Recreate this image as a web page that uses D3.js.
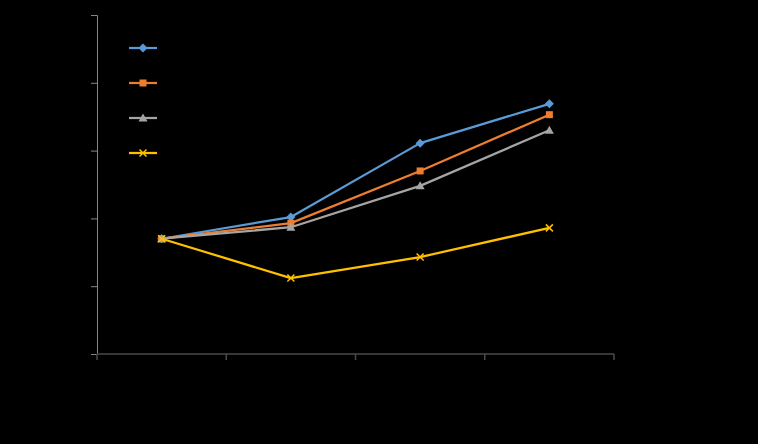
<!DOCTYPE html>
<html>
<head>
<meta charset="utf-8">
<script src="https://cdn.jsdelivr.net/npm/d3@7"></script>
<style>
  body { margin: 0; background: #000; }
  svg { display: block; font-family: "Liberation Sans", Arial, sans-serif; }
</style>
</head>
<body>
<svg id="chart" width="758" height="444"></svg>
<script>
// chart data
const categories = ["Category 1", "Category 2", "Category 3", "Category 4"];
const seriesNames = ["Series 1", "Series 2", "Series 3", "Series 4"];
const series1 = [1.70, 2.02, 3.11, 3.69];
const series2 = [1.70, 1.93, 2.70, 3.53];
const series3 = [1.70, 1.87, 2.48, 3.30];
const series4 = [1.70, 1.12, 1.43, 1.86];
const yTicks = [0, 1, 2, 3, 4, 5];

const colors = ["#5B9BD5", "#ED7D31", "#A5A5A5", "#FFC000"];
const markers = ["diamond", "square", "triangle", "cross"];
const allSeries = [series1, series2, series3, series4];

const margin = {top: 15, left: 97, right: 144, bottom: 90};
const width = 758 - margin.left - margin.right;
const height = 444 - margin.top - margin.bottom;

const svg = d3.select("#chart");
const chart = svg.append("g")
    .attr("transform", `translate(${margin.left},${margin.top})`);

const xScale = d3.scaleBand().domain(categories).range([0, width]);
const yScale = d3.scaleLinear().domain([0, 5]).range([height, 0]);

// y axis
const yAxisG = chart.append("g")
    .call(d3.axisLeft(yScale).tickValues(yTicks).tickSize(6).tickPadding(6));
yAxisG.selectAll("path, line").attr("stroke", "#868686");
yAxisG.selectAll("text").attr("fill", "#000").attr("font-size", 12);

// x axis, ticks on band boundaries
const xAxisG = chart.append("g").attr("transform", `translate(0,${height})`);
xAxisG.append("line")
    .attr("x1", 0).attr("x2", width)
    .attr("stroke", "#4a4a4a").attr("stroke-width", 1.5);
const bounds = categories.map(c => xScale(c)).concat([width]);
xAxisG.selectAll(".tk").data(bounds).join("line")
    .attr("x1", d => d).attr("x2", d => d)
    .attr("y1", 0).attr("y2", 6)
    .attr("stroke", "#4a4a4a").attr("stroke-width", 1.5);
xAxisG.selectAll(".lbl").data(categories).join("text")
    .attr("x", d => xScale(d) + xScale.bandwidth() / 2)
    .attr("y", 22)
    .attr("text-anchor", "middle")
    .attr("fill", "#000").attr("font-size", 12)
    .text(d => d);

const cx = c => xScale(c) + xScale.bandwidth() / 2;

function drawMarker(g, type, color) {
  if (type === "diamond") {
    g.append("path").attr("d", "M0,-4.5L4.5,0L0,4.5L-4.5,0Z").attr("fill", color);
  } else if (type === "square") {
    g.append("rect").attr("x", -3.5).attr("y", -3.5).attr("width", 7).attr("height", 7).attr("fill", color);
  } else if (type === "triangle") {
    g.append("path").attr("d", "M0,-4.5L4.5,3.5L-4.5,3.5Z").attr("fill", color);
  } else {
    g.append("path").attr("d", "M-3.5,-3.5L3.5,3.5M3.5,-3.5L-3.5,3.5")
      .attr("stroke", color).attr("stroke-width", 1.5).attr("fill", "none");
  }
}

const line = d3.line()
    .x((d, i) => cx(categories[i]))
    .y(d => yScale(d));

allSeries.forEach((vals, s) => {
  chart.append("path")
      .datum(vals)
      .attr("d", line)
      .attr("fill", "none")
      .attr("stroke", colors[s])
      .attr("stroke-width", 2.25)
      .attr("stroke-linejoin", "round");
  vals.forEach((v, i) => {
    const g = chart.append("g")
        .attr("transform", `translate(${cx(categories[i])},${yScale(v)})`);
    drawMarker(g, markers[s], colors[s]);
  });
});

// legend
const legend = svg.append("g").attr("transform", "translate(129,48)");
seriesNames.forEach((name, s) => {
  const g = legend.append("g").attr("transform", `translate(0,${s * 35})`);
  g.append("line").attr("x1", 0).attr("x2", 28)
      .attr("stroke", colors[s]).attr("stroke-width", 2.25);
  const m = g.append("g").attr("transform", "translate(14,0)");
  drawMarker(m, markers[s], colors[s]);
  g.append("text").attr("x", 34).attr("y", 4)
      .attr("fill", "#000").attr("font-size", 12).text(name);
});
</script>
</body>
</html>
